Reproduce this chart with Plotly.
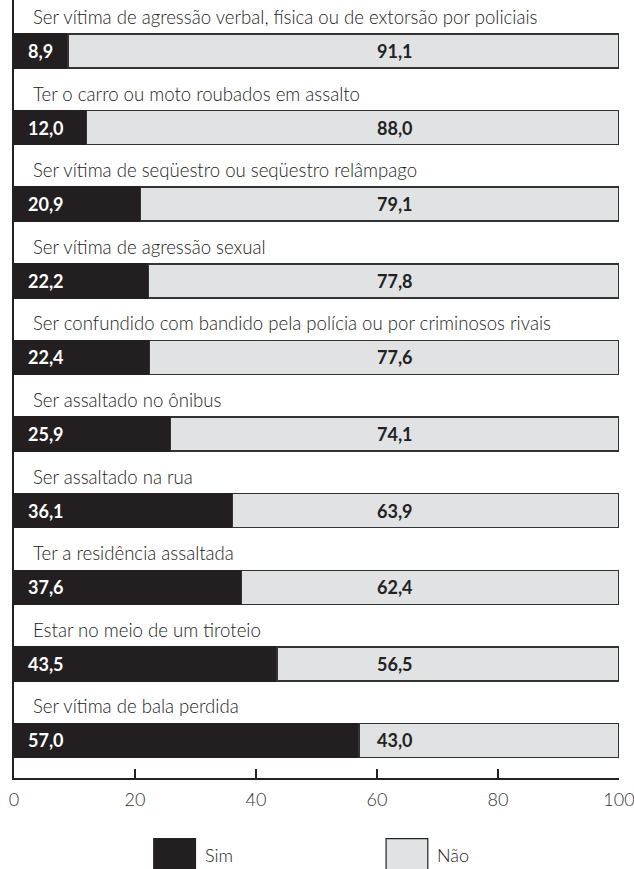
import plotly.graph_objects as go

situacoes = [
    "Ser vítima de agressão verbal, física ou de extorsão por policiais",
    "Ter o carro ou moto roubados em assalto",
    "Ser vítima de seqüestro ou seqüestro relâmpago",
    "Ser vítima de agressão sexual",
    "Ser confundido com bandido pela polícia ou por criminosos rivais",
    "Ser assaltado no ônibus",
    "Ser assaltado na rua",
    "Ter a residência assaltada",
    "Estar no meio de um tiroteio",
    "Ser vítima de bala perdida",
]
sim = [8.9, 12.0, 20.9, 22.2, 22.4, 25.9, 36.1, 37.6, 43.5, 57.0]
nao = [91.1, 88.0, 79.1, 77.8, 77.6, 74.1, 63.9, 62.4, 56.5, 43.0]
ticks = [0, 20, 40, 60, 80, 100]

PRETO = "#231f20"
CINZA = "#e1e2e3"
FONTE = "Lato"

def br(v):
    return f"{v:.1f}".replace(".", ",")

fig = go.Figure()
fig.add_bar(y=situacoes, x=sim, orientation="h", name="Sim",
            marker=dict(color=PRETO, line=dict(color=PRETO, width=1.5)))
fig.add_bar(y=situacoes, x=nao, orientation="h", name="Não",
            marker=dict(color=CINZA, line=dict(color="#333", width=1.5)))

for s, a, b in zip(situacoes, sim, nao):
    fig.add_annotation(x=0, y=s, text=s, xanchor="left", yanchor="middle",
                       xshift=17, yshift=34, showarrow=False,
                       font=dict(family=FONTE, size=18.6, color="#222", weight=300))
    fig.add_annotation(x=2, y=s, text=br(a), xanchor="left", showarrow=False,
                       font=dict(family=FONTE, size=18, color="white", weight="bold"))
    fig.add_annotation(x=63, y=s, text=br(b), xanchor="center", showarrow=False,
                       font=dict(family=FONTE, size=18, color="#222", weight="bold"))

# legenda desenhada
for x0, nome, cor in [(0.231, "Sim", PRETO), (0.615, "Não", CINZA)]:
    fig.add_shape(type="rect", xref="paper", yref="paper",
                  x0=x0, x1=x0 + 0.069, y0=-0.125, y1=-0.078,
                  fillcolor=cor, line=dict(color="#222", width=1.2))
    fig.add_annotation(xref="paper", yref="paper", x=x0 + 0.081, y=-0.099,
                       text=nome, xanchor="left", yanchor="middle", showarrow=False,
                       font=dict(family=FONTE, size=18, color="#222", weight=300))

fig.update_layout(
    barmode="stack", bargap=0.556, showlegend=False,
    width=634, height=869,
    margin=dict(l=14, r=15, t=0, b=91),
    plot_bgcolor="white", paper_bgcolor="white",
    xaxis=dict(range=[0, 100], tickvals=ticks, ticks="inside", ticklen=9,
               tickwidth=1.5, tickcolor="#222", showline=True, linecolor="#222",
               linewidth=1.5, showgrid=False, zeroline=False,
               ticklabeloverflow="allow", automargin=False, ticklabelstandoff=5,
               tickfont=dict(family=FONTE, size=18, color="#333", weight=300)),
    yaxis=dict(range=[9.49, -0.666], showticklabels=False, ticks="",
               showline=True, linecolor="#222", linewidth=1.5, showgrid=False,
               automargin=False),
)

fig.write_html("out.html", config={"displayModeBar": False},
               post_script="document.body.style.margin='0';document.body.style.overflow='hidden';")
